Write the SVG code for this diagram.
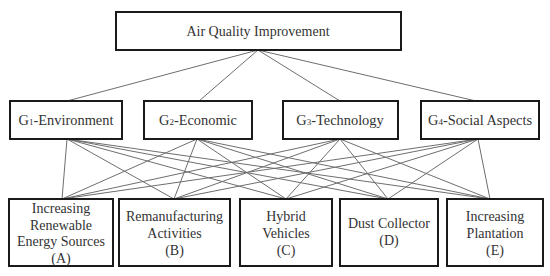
<svg xmlns="http://www.w3.org/2000/svg" width="550" height="276" viewBox="0 0 550 276">
<style>
.box{fill:#fff;stroke:#1a1a1a;stroke-width:2}
.t{font-size:14px;fill:#333;text-anchor:middle}
.g{font-size:14.4px}
.sub{font-size:9px}
.c line{stroke:#6e6e6e;stroke-width:1}
</style>
<rect width="550" height="276" fill="#fff"/>
<g class="c" id="connectors">
<line x1="258" y1="50" x2="67" y2="101"/>
<line x1="258" y1="50" x2="199" y2="101"/>
<line x1="258" y1="50" x2="340" y2="101"/>
<line x1="258" y1="50" x2="476" y2="101"/>
<line x1="67" y1="139" x2="62" y2="199"/>
<line x1="67" y1="139" x2="174" y2="199"/>
<line x1="67" y1="139" x2="286" y2="199"/>
<line x1="67" y1="139" x2="388" y2="199"/>
<line x1="67" y1="139" x2="490" y2="199"/>
<line x1="197" y1="139" x2="62" y2="199"/>
<line x1="197" y1="139" x2="174" y2="199"/>
<line x1="197" y1="139" x2="286" y2="199"/>
<line x1="197" y1="139" x2="388" y2="199"/>
<line x1="197" y1="139" x2="490" y2="199"/>
<line x1="340" y1="139" x2="62" y2="199"/>
<line x1="340" y1="139" x2="174" y2="199"/>
<line x1="340" y1="139" x2="286" y2="199"/>
<line x1="340" y1="139" x2="388" y2="199"/>
<line x1="340" y1="139" x2="490" y2="199"/>
<line x1="478" y1="139" x2="62" y2="199"/>
<line x1="478" y1="139" x2="174" y2="199"/>
<line x1="478" y1="139" x2="286" y2="199"/>
<line x1="478" y1="139" x2="388" y2="199"/>
<line x1="478" y1="139" x2="490" y2="199"/>
</g>
<g font-family="Liberation Serif, Times New Roman, serif">
<g id="goal">
<rect class="box" x="116" y="12" width="285" height="38"/>
<text class="t" x="258" y="36">Air Quality Improvement</text>
</g>
<g id="g1">
<rect class="box" x="10" y="101" width="112" height="38"/>
<text class="t g" x="66" y="125">G<tspan class="sub">1</tspan>-Environment</text>
</g>
<g id="g2">
<rect class="box" x="144" y="101" width="108" height="38"/>
<text class="t g" x="198" y="125">G<tspan class="sub">2</tspan>-Economic</text>
</g>
<g id="g3">
<rect class="box" x="283" y="101" width="115" height="38"/>
<text class="t g" x="340" y="125">G<tspan class="sub">3</tspan>-Technology</text>
</g>
<g id="g4">
<rect class="box" x="421" y="101" width="118" height="38"/>
<text class="t g" x="480" y="125">G<tspan class="sub">4</tspan>-Social Aspects</text>
</g>
<g id="a">
<rect class="box" x="9" y="199" width="104" height="67"/>
<text class="t" x="61" y="213">Increasing</text>
<text class="t" x="61" y="229.5">Renewable</text>
<text class="t" x="61" y="246">Energy Sources</text>
<text class="t" x="61" y="262.5">(A)</text>
</g>
<g id="b">
<rect class="box" x="119" y="199" width="111" height="67"/>
<text class="t" x="174.5" y="221">Remanufacturing</text>
<text class="t" x="174.5" y="238">Activities</text>
<text class="t" x="174.5" y="255">(B)</text>
</g>
<g id="c">
<rect class="box" x="240" y="199" width="92" height="67"/>
<text class="t" x="286" y="221">Hybrid</text>
<text class="t" x="286" y="238">Vehicles</text>
<text class="t" x="286" y="255">(C)</text>
</g>
<g id="d">
<rect class="box" x="340" y="199" width="98" height="67"/>
<text class="t" x="389" y="228">Dust Collector</text>
<text class="t" x="389" y="245">(D)</text>
</g>
<g id="e">
<rect class="box" x="447" y="199" width="96" height="67"/>
<text class="t" x="495" y="221">Increasing</text>
<text class="t" x="495" y="238">Plantation</text>
<text class="t" x="495" y="255">(E)</text>
</g>
</g>
</svg>
